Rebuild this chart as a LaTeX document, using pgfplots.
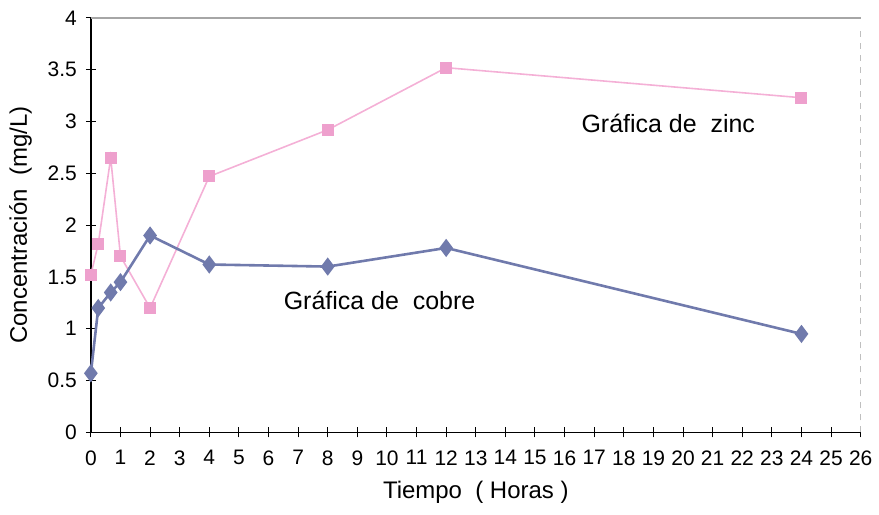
\documentclass[border=0pt]{standalone}
\usepackage{fontspec}
\setmainfont{Liberation Sans}
\usepackage{pgfplots}
\pgfplotsset{compat=1.18}

\definecolor{cobre}{RGB}{112,122,172}
\definecolor{zinc}{RGB}{244,176,214}
\definecolor{zincmark}{RGB}{238,160,205}

\begin{document}
\begin{tikzpicture}
\begin{axis}[
  scale only axis,
  width=385.5pt, height=207.5pt,
  xmin=0, xmax=26, ymin=0, ymax=4,
  xtick={0,1,...,26},
  ytick={0,0.5,...,4},
  yticklabels={0,0.5,1,1.5,2,2.5,3,3.5,4},
  /pgf/number format/assume math mode=true,
  tick label style={font=\fontsize{10.5}{12}\selectfont},
  axis x line*=bottom,
  axis y line*=left,
  x axis line style={-, black, line width=0.7pt},
  y axis line style={-, black, line width=0.7pt},
  xtick style={black, line width=0.5pt},
  ytick style={black, line width=0.5pt},
  tick align=center,
  major tick length=5pt,
  xticklabel style={yshift=-3pt},
  yticklabel style={xshift=-1pt},
  xlabel={Tiempo \ ( Horas )},
  ylabel={Concentración \ (mg/L)},
  label style={font=\fontsize{12}{14}\selectfont},
  xlabel style={yshift=-1pt},
  ylabel style={yshift=1pt},
  clip=false,
]
% frame of the plot area: grey top edge, faint dashed right edge
\draw[gray!70, line width=0.6pt] (rel axis cs:0,1) -- (rel axis cs:1,1);
\draw[gray!50, dashed, line width=0.4pt] (rel axis cs:1,0) -- (rel axis cs:1,0.98);

% zinc
\addplot[zinc, line width=0.8pt, mark=square*,
  mark options={fill=zincmark, draw=zincmark}, mark size=2.6pt]
  coordinates {(0,1.52) (0.25,1.82) (0.67,2.65) (1,1.70) (2,1.20)
               (4,2.47) (8,2.92) (12,3.52) (24,3.23)};

% copper
\addplot[cobre, line width=1.3pt, mark=diamond*,
  mark options={fill=cobre, draw=cobre}, mark size=3.5pt]
  coordinates {(0,0.57) (0.25,1.20) (0.67,1.35) (1,1.45) (2,1.90)
               (4,1.62) (8,1.60) (12,1.78) (24,0.95)};

\node[font=\fontsize{12.5}{14}\selectfont] at (axis cs:19.5,2.98) {Gráfica de \ zinc};
\node[font=\fontsize{12.5}{14}\selectfont] at (axis cs:9.75,1.27) {Gráfica de \ cobre};
\end{axis}
\path (current axis.south west) ++(-45.5pt,-41pt) coordinate (bbsw);
\path (current axis.north east) ++(8.5pt,9pt) coordinate (bbne);
\useasboundingbox (bbsw) rectangle (bbne);
\end{tikzpicture}
\end{document}
